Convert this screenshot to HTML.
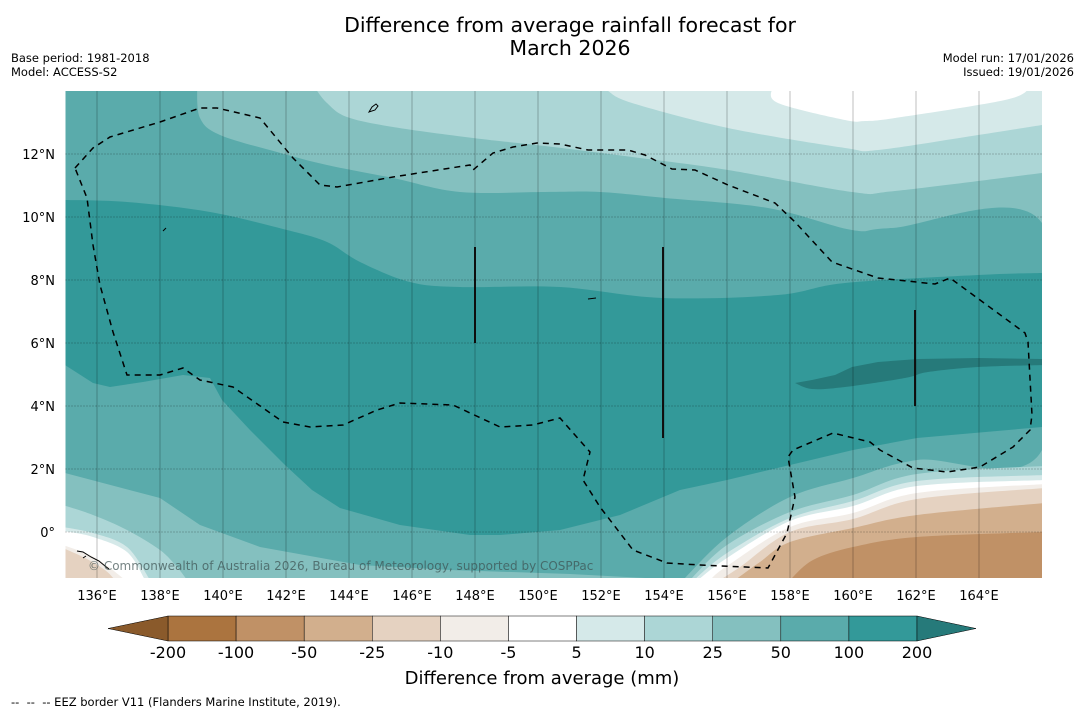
<!DOCTYPE html>
<html><head><meta charset="utf-8">
<style>
html,body{margin:0;padding:0;background:#fff;}
body{width:1085px;height:713px;position:relative;overflow:hidden;font-family:"Liberation Sans","DejaVu Sans",sans-serif;}
.t{position:absolute;white-space:nowrap;color:#000;}
</style></head>
<body>
<div class="t" style="left:270px;width:600px;top:14px;text-align:center;font-size:20.5px;line-height:23px;font-family:'DejaVu Sans',sans-serif;">Difference from average rainfall forecast for<br>March 2026</div>
<div class="t" style="left:11px;top:51px;font-size:11.5px;font-family:'DejaVu Sans',sans-serif;">Base period: 1981-2018</div>
<div class="t" style="left:11px;top:65px;font-size:11.5px;font-family:'DejaVu Sans',sans-serif;">Model: ACCESS-S2</div>
<div class="t" style="right:11px;top:51px;font-size:11.5px;text-align:right;font-family:'DejaVu Sans',sans-serif;">Model run: 17/01/2026</div>
<div class="t" style="right:11px;top:65px;font-size:11.5px;text-align:right;font-family:'DejaVu Sans',sans-serif;">Issued: 19/01/2026</div>
<div class="t" style="left:342px;width:400px;top:668px;text-align:center;font-size:18px;font-family:'DejaVu Sans',sans-serif;">Difference from average (mm)</div>
<div class="t" style="left:11px;top:695px;font-size:11.5px;font-family:'DejaVu Sans',sans-serif;">--&nbsp; --&nbsp; -- EEZ border V11 (Flanders Marine Institute, 2019).</div>

<svg id="svg" width="1085" height="713" style="position:absolute;left:0;top:0"></svg>

<script>
// Axis ticks
const lonTicks = [136,138,140,142,144,146,148,150,152,154,156,158,160,162,164];
const latTicks = [0,2,4,6,8,10,12];
// Colorbar data
const cbLevels = [-200,-100,-50,-25,-10,-5,5,10,25,50,100,200];
const cbColors = ['#ab743f','#c09166','#d2af8d','#e5d2c1','#f2ede8','#ffffff','#d5e9e9','#acd6d6','#84c0bf','#5aabab','#339999'];
const cbLow = '#8a5a2b', cbHigh = '#267a7a';

const NS='http://www.w3.org/2000/svg';
const svg=document.getElementById('svg');
const L=65.5,R=1042,T=91,B=578;
const lon0=135,lat0=14,ppd=31.5;
const xS=lon=>L+(lon-lon0)*ppd;
const yS=lat=>T+(lat0-lat)*ppd;

function mk(tag,attrs,parent){const e=document.createElementNS(NS,tag);for(const k in attrs)e.setAttribute(k,attrs[k]);(parent||svg).appendChild(e);return e;}
function smooth(pts){
  if(pts.length<3){return 'M'+pts.map(p=>p.join(',')).join('L');}
  let d='M'+pts[0][0]+','+pts[0][1];
  for(let i=0;i<pts.length-1;i++){
    const p0=pts[Math.max(i-1,0)],p1=pts[i],p2=pts[i+1],p3=pts[Math.min(i+2,pts.length-1)];
    const c1=[p1[0]+(p2[0]-p0[0])/6,p1[1]+(p2[1]-p0[1])/6];
    const c2=[p2[0]-(p3[0]-p1[0])/6,p2[1]-(p3[1]-p1[1])/6];
    d+='C'+c1[0].toFixed(1)+','+c1[1].toFixed(1)+' '+c2[0].toFixed(1)+','+c2[1].toFixed(1)+' '+p2[0]+','+p2[1];
  }
  return d;
}
function region(curve,closing,fill,name){
  let d=smooth(curve);
  closing.forEach(p=>d+='L'+p[0]+','+p[1]);
  d+='Z';
  const e=mk('path',{d:d,fill:fill,stroke:'none'},clipG);
  
  
}

const defs=mk('defs',{});
const cp=mk('clipPath',{id:'mapclip'},defs);
mk('rect',{x:L,y:T,width:R-L,height:B-T},cp);
const clipG=mk('g',{'clip-path':'url(#mapclip)'});



const C=cbColors;
mk('rect',{x:L,y:T,width:R-L,height:B-T,fill:C[7]},clipG);
region([[608,91],[632,103],[728,128],[845,148],[878,150],[978,135],[1042,125]],[[1042,85],[608,85]],C[6],'band-5-10-top');
region([[772,88],[778,103],[845,120],[865,121],[895,118],[1005,100],[1030,88]],[],'#ffffff','band-neutral-top');
region([[315,88],[327,103],[347,117],[393,127],[473,138],[545,146],[640,158],[728,170],[852,192],[895,191],[1042,173]],[[1042,580],[65,580],[65,88]],C[8],'band-25-50');
region([[197,88],[200,118],[220,135],[277,152],[327,165],[393,178],[460,192],[545,192],[600,192],[665,198],[768,208],[852,230],[892,228],[1042,223],
        [1042,450],[917,460],[853,478],[790,497],[727,537],[683,580]],
       [[570,574],[450,570],[360,565],[260,547],[200,525],[160,498],[65,473],[65,88]],C[9],'band-50-100');
region([[65,200],[127,202],[210,212],[287,230],[327,242],[360,262],[410,282],[460,287],[560,287],[662,298],[778,295],[845,283],[978,275],[1042,273]],
       [[1042,427],[917,438],[853,450],[790,465],[727,480],[680,490],[620,515],[560,530],[500,535],[470,535],[400,525],[340,508],[312,490],[285,465],[250,430],[222,400],[210,378],[183,375],[143,382],[110,387],[93,383],[65,365]],C[10],'band-100-200');
region([[795,383],[812,389],[845,387],[905,378],[928,372],[978,367],[1045,365]],[[1045,359],[978,358],[918,359],[878,362],[852,367],[835,375],[812,380]],cbHigh,'band-over-200');
const br=[
 [[[690,580],[727,545],[790,512],[853,495],[917,474],[1045,466]],C[7]],
 [[[694,580],[727,553],[790,518],[853,501],[917,481],[1045,475]],C[6]],
 [[[698,580],[727,558],[790,521],[853,506],[917,486],[1045,480]],'#ffffff'],
 [[[710,580],[727,566],[790,527],[853,513],[917,493],[1045,484]],C[4]],
 [[[720,580],[740,567],[790,532],[853,519],[917,499],[1045,488]],C[3]],
 [[[735,580],[760,562],[790,542],[853,528],[917,515],[1045,503]],C[2]],
 [[[790,580],[813,560],[853,547],[917,537],[1045,532]],C[1]]
];
br.forEach((b,i)=>region(b[0],[[1045,580]],b[1],'band-bottom-right-'+i));
const bl=[
 [[[63,505],[93,515],[127,530],[160,550],[177,567],[187,580]],C[7]],
 [[[63,527],[93,533],[127,547],[150,580]],C[6]],
 [[[63,531],[93,537],[127,552],[145,580]],'#ffffff'],
 [[[63,545],[90,555],[110,568],[125,580]],C[4]],
 [[[63,548],[85,558],[105,570],[115,580]],C[3]]
];
bl.forEach((b,i)=>region(b[0],[[63,580]],b[1],'band-bottom-left-'+i));

lonTicks.forEach(v=>{
  const l=mk('line',{x1:xS(v),x2:xS(v),y1:T,y2:B,stroke:'rgba(0,0,0,0.25)','stroke-width':1});
  
  
  const t=mk('text',{x:xS(v),y:600,'text-anchor':'middle','font-size':13,'font-family':'DejaVu Sans, sans-serif'});
  t.textContent=v+'°E';
  
  
});
latTicks.forEach(v=>{
  const l=mk('line',{x1:L,x2:R,y1:yS(v),y2:yS(v),stroke:'rgba(0,0,0,0.4)','stroke-width':1,'stroke-dasharray':'1,2'});
  
  
  const t=mk('text',{x:55,y:yS(v)+5,'text-anchor':'end','font-size':13,'font-family':'DejaVu Sans, sans-serif'});
  t.textContent=v===0?'0°':v+'°N';
  
  
});

const eez1=[[75,168],[93,148],[110,137],[160,122],[200,108],[217,108],[260,118],[293,158],[320,185],[337,187],[393,177],[470,165],[473,170],[493,153],[513,147],[537,143],[560,144],[588,150],[628,150],[645,155],[672,169],[695,170],[728,185],[775,203],[795,222],[832,262],[878,278],[935,284],[950,278],[1025,333],[1028,342],[1032,415],[1030,430],[1013,447],[980,467],[947,472],[913,468],[880,450],[870,442],[833,433],[793,450],[788,457],[795,497],[787,533],[768,568],[700,565],[667,563],[633,550],[600,507],[583,480],[590,452],[560,418],[533,425],[500,427],[453,405],[400,403],[377,410],[343,425],[310,427],[283,422],[233,387],[200,380],[183,368],[160,375],[127,375],[113,332],[100,285],[93,245],[87,198],[75,168]];
const e1=mk('path',{d:'M'+eez1.map(p=>p.join(',')).join('L'),fill:'none',stroke:'#000','stroke-width':1.5,'stroke-dasharray':'6,5'},clipG);


[[475,247,343],[663,247,438],[915,310,406]].forEach(s=>{
  const l=mk('line',{x1:s[0],x2:s[0],y1:s[1],y2:s[2],stroke:'#111','stroke-width':2},clipG);
  
  
});
const isl=mk('path',{d:'M77,551 l6,1 l8,5 l8,4 l6,5 l4,3 M86,556 l-3,2 M369,112 l3,-5 l4,-3 l2,2 l-3,4 z M163,231 l3,-3 M588,299 l8,-1',fill:'none',stroke:'#000','stroke-width':1},clipG);


const cr=mk('text',{x:88,y:570,'font-size':12,fill:'rgba(60,80,80,0.7)','font-family':'DejaVu Sans, sans-serif'});
cr.textContent='© Commonwealth of Australia 2026, Bureau of Meteorology, supported by COSPPac';



const cbL=168,cbR=917,cbT=616,cbB=641;
const segW=(cbR-cbL)/(cbLevels.length-1);
const cbX=i=>cbL+i*segW;
cbColors.forEach((c,i)=>{
  const r=mk('rect',{x:cbX(i),y:cbT,width:segW,height:cbB-cbT,fill:c,stroke:'#000','stroke-width':0.5});
  
  
});
const tl=mk('polygon',{points:`${cbL},${cbT} 108,${(cbT+cbB)/2} ${cbL},${cbB}`,fill:cbLow,stroke:'#000','stroke-width':0.5});


const th=mk('polygon',{points:`${cbR},${cbT} 976,${(cbT+cbB)/2} ${cbR},${cbB}`,fill:cbHigh,stroke:'#000','stroke-width':0.5});


cbLevels.forEach((v,i)=>{
  const t=mk('text',{x:cbX(i),y:658,'text-anchor':'middle','font-size':16,'font-family':'DejaVu Sans, sans-serif'});
  t.textContent=String(v);
  
  
});
</script>
</body></html>
